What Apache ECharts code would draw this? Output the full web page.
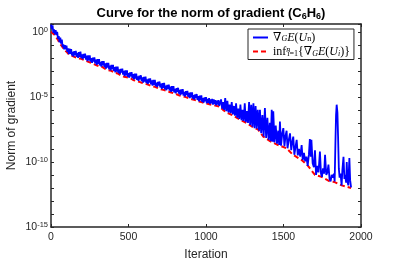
<!DOCTYPE html>
<html>
<head>
<meta charset="utf-8">
<script src="https://cdn.jsdelivr.net/npm/echarts@6/dist/echarts.min.js"></script>
<style>html,body{margin:0;padding:0;background:#fff;}#c{width:399px;height:261px;}</style>
</head>
<body>
<div id="c"></div>
<script>
// Iteration numbers and log10 of the gradient norm (blue curve)
const gradIter = [0,5,10,15,20,25,30,35,40,45,50,55,60,65,70,75,80,85,90,95,100,105,110,115,120,125,130,135,140,145,150,155,160,165,170,175,180,185,190,195,200,
205,210,215,220,225,230,235,240,245,250,255,260,265,270,275,280,285,290,295,300,305,310,315,320,325,330,335,340,345,350,355,360,365,370,375,380,385,390,395,400,
405,410,415,420,425,430,435,440,445,450,455,460,465,470,475,480,485,490,495,500,505,510,515,520,525,530,535,540,545,550,555,560,565,570,575,580,585,590,595,600,
605,610,615,620,625,630,635,640,645,650,655,660,665,670,675,680,685,690,695,700,705,710,715,720,725,730,735,740,745,750,755,760,765,770,775,780,785,790,795,800,
805,810,815,820,825,830,835,840,845,850,855,860,865,870,875,880,885,890,895,900,905,910,915,920,925,930,935,940,945,950,955,960,965,970,975,980,985,990,995,1000,
1005,1010,1015,1020,1025,1030,1035,1040,1045,1050,1055,1060,1065,1070,1075,1080,1085,
1090,1097,1104,1110,1117,1124,1131,1138,1145,1152,1159,1166,1173,1180,1187,1194,1201,1208,1215,1222,1229,1236,1243,1250,1257,1264,1271,1278,1285,1292,1299,1306,1313,1320,1327,1334,1342,1348,1356,1364,1372,1380,1388,1396,1404,1412,1418,1424,1430,1434,1442,1450,1458,1466,1472,1477,1484,1492,1499,1506,1513,1520,1526,1534,1542,1550,1556,1563,1570,1578,1585,1592,1600,1608,1617,1624,1632,1640,1648,1656,1664,1670,1676,1680,1688,1696,1703,1710,1718,1726,1735,1742,1748,1755,1762,1768,1776,1783,1790,1797,1804,1811,1818,1825,1830,1835,1839,1843,1848,1852,1857,1862,1868,1875,1880,1887,1893,1898,1904,1908,1913,1918,1925,1930,1936];
const gradLog10 = [0.55,0.2,0.5,-0.07,0.18,-0.2,0.13,-0.25,-0.01,-0.55,-0.33,-0.81,-0.45,-0.9,-0.6,-1.17,-0.97,-1.35,-1.02,-1.35,-1.06,-1.55,-1.28,-1.71,-1.3,-1.7,-1.33,-1.82,-1.55,-1.9,-1.49,-1.78,-1.46,-1.92,-1.61,-2.01,-1.56,-1.92,-1.53,-2.02,-1.74,
-2.09,-1.69,-1.99,-1.68,-2.14,-1.84,-2.25,-1.81,-2.19,-1.81,-2.3,-2.03,-2.38,-1.98,-2.28,-1.96,-2.43,-2.13,-2.54,-2.1,-2.47,-2.1,-2.59,-2.32,-2.67,-2.26,-2.57,-2.25,-2.72,-2.42,-2.82,-2.39,-2.76,-2.39,-2.88,-2.6,-2.96,-2.55,-2.86,-2.54,
-3.0,-2.71,-3.11,-2.68,-3.05,-2.67,-3.17,-2.89,-3.25,-2.84,-3.14,-2.83,-3.29,-3.0,-3.4,-2.96,-3.34,-2.96,-3.46,-3.18,-3.53,-3.12,-3.42,-3.1,-3.56,-3.26,-3.66,-3.22,-3.59,-3.21,-3.7,-3.42,-3.77,-3.36,-3.66,-3.34,-3.8,-3.5,-3.9,-3.46,
-3.83,-3.45,-3.94,-3.66,-4.01,-3.6,-3.9,-3.58,-4.04,-3.74,-4.14,-3.7,-4.07,-3.69,-4.18,-3.9,-4.25,-3.84,-4.14,-3.82,-4.28,-3.98,-4.38,-3.94,-4.31,-3.93,-4.42,-4.14,-4.49,-4.08,-4.38,-4.06,-4.52,-4.22,-4.62,-4.18,-4.55,-4.17,-4.66,-4.38,
-4.73,-4.32,-4.62,-4.3,-4.76,-4.46,-4.86,-4.42,-4.79,-4.41,-4.9,-4.62,-4.97,-4.56,-4.86,-4.54,-5.0,-4.7,-5.1,-4.66,-5.03,-4.65,-5.14,-4.86,-5.21,-4.8,-5.1,-4.78,-5.24,-4.94,-5.34,-4.9,-5.27,-4.89,-5.38,-5.1,-5.45,-5.04,-5.34,-5.02,
-5.5,-5.15,-5.45,-5.1,-5.55,-5.2,-5.5,-5.15,-5.6,-5.2,-5.55,-5.25,-5.65,-5.3,-5.6,-5.25,-5.7,
-5.7,-5.2,-5.9,-5.4,-6.0,-5.1,-6.1,-5.3,-6.2,-5.6,-6.25,-5.4,-6.35,-5.7,-6.45,-5.5,-6.6,-5.9,-6.7,-5.6,-6.8,-6.0,-6.85,-5.5,-6.95,-6.1,-7.0,-5.4,-7.15,-5.6,-7.3,-5.5,-7.4,-5.7,-7.45,-6.0,-7.6,-6.0,-7.8,-6.4,-8.05,-5.85,-8.15,-6.6,-8.3,-7.0,-8.4,-6.0,-8.45,-6.1,-8.5,-7.2,-8.6,-7.6,-8.7,-6.9,-8.75,-7.8,-7.4,-8.8,-8.0,-7.6,-8.95,-8.3,-7.8,-9.1,-8.5,-8.05,-9.45,-8.8,-8.3,-9.5,-9.0,-9.6,-8.7,-9.85,-9.3,-9.95,-9.6,-10.3,-9.4,-8.25,-9.6,-8.3,-10.1,-10.4,-9.1,-11.0,-10.3,-10.8,-9.2,-10.9,-11.15,-10.5,-10.9,-9.45,-11.0,-10.8,-10.2,-11.3,-11.5,-11.0,-11.2,-10.9,-11.5,-8.5,-6.4,-5.6,-6.2,-8.0,-10.5,-11.2,-10.9,-11.8,-10.6,-9.6,-11.3,-11.0,-11.6,-10.0,-11.5,-11.8,-9.7,-11.4,-11.95];

// Iteration numbers and log10 of the running infimum (red dashed curve)
const infIter = [0,12,24,36,44,54,66,76,86,104,116,136,146,176,196,210,230,250,270,290,310,330,350,370,390,410,430,450,470,490,510,530,550,570,590,610,630,650,670,690,710,730,750,770,790,810,830,850,870,890,910,930,950,970,990,1040,1090,1110,1133,1170,1219,1260,1305,1335,1370,1413,1465,1520,1561,1617,1658,1703,1746,1800,1830,1875,1936];
const infLog10 = [0.0,-0.1,-0.25,-0.3,-0.6,-0.85,-0.95,-1.2,-1.38,-1.58,-1.75,-1.85,-1.93,-2.05,-2.08,-2.15,-2.25,-2.35,-2.45,-2.55,-2.65,-2.7,-2.85,-2.95,-3.0,-3.15,-3.2,-3.35,-3.45,-3.5,-3.55,-3.7,-3.78,-3.85,-3.93,-4.0,-4.08,-4.17,-4.23,-4.32,-4.42,-4.47,-4.55,-4.65,-4.72,-4.8,-4.9,-4.95,-5.02,-5.12,-5.18,-5.25,-5.35,-5.4,-5.48,-5.62,-5.75,-6.0,-6.2,-6.4,-6.75,-7.0,-7.35,-7.5,-8.05,-8.4,-8.7,-8.95,-9.45,-9.85,-10.3,-11.0,-11.15,-11.5,-11.55,-11.8,-12.0];

// Axis ticks
const xTicks = [0, 500, 1000, 1500, 2000];
const yTickExponents = [0, -5, -10, -15];

const sans = 'Liberation Sans, Arial, Helvetica, sans-serif';
const serif = 'Liberation Serif, DejaVu Serif, serif';
const axisColor = '#262626';

const chart = echarts.init(document.getElementById('c'), null, {renderer: 'canvas'});

const yLabelRich = {
  b: {fontFamily: sans, fontSize: 10.5, color: axisColor, lineHeight: 12, verticalAlign: 'bottom'},
  e: {fontFamily: sans, fontSize: 7.5, color: axisColor, lineHeight: 8, padding: [0, 0, 7, 0], verticalAlign: 'top'}
};

const legRich = {
  m: {fontFamily: serif, fontSize: 12, lineHeight: 11, color: '#000', verticalAlign: 'middle'},
  mi: {fontFamily: serif, fontSize: 12, lineHeight: 11, color: '#000', fontStyle: 'italic', verticalAlign: 'middle'},
  sb: {fontFamily: serif, fontSize: 8, lineHeight: 8, color: '#000', fontStyle: 'italic', padding: [5, 0, 0, 0], verticalAlign: 'bottom'},
  sbu: {fontFamily: serif, fontSize: 8, lineHeight: 8, color: '#000', padding: [5, 0, 0, 0], verticalAlign: 'bottom'},
  sp: {fontFamily: serif, fontSize: 8, lineHeight: 8, color: '#000', fontStyle: 'italic', padding: [0, 0, 5, 0], verticalAlign: 'top', width: 1}
};

const legendText = {
  grad: '{m|∇}{sb|G}{mi|E}{m|(}{mi|U}{sbu|n}{m|)}',
  inf: '{m|inf}{sp|n}{sbu|i=1}{m|{∇}{sb|G}{mi|E}{m|(}{mi|U}{sb|i}{m|)}{m|\u007d}'
};

const commonX = {type: 'value', min: xTicks[0], max: xTicks[xTicks.length - 1], interval: 500, splitLine: {show: false}};
const commonY = {type: 'value', min: -15, max: 0.6, interval: 1, splitLine: {show: false}};
const lineAx = {onZero: false, lineStyle: {color: axisColor, width: 1.5}};
const tickAx = {inside: true, length: 3, lineStyle: {color: axisColor}};

chart.setOption({
  animation: false,
  backgroundColor: '#fff',
  title: {
    text: '{t|Curve for the norm of gradient (C}{s|6}{t|H}{s|6}{t|)}',
    left: 206, top: 2, textAlign: 'center',
    textStyle: {
      rich: {
        t: {fontFamily: sans, fontSize: 13, fontWeight: 'bold', color: '#000', lineHeight: 14, verticalAlign: 'top'},
        s: {fontFamily: sans, fontSize: 9, fontWeight: 'bold', color: '#000', lineHeight: 10, padding: [6, 0, 0, 0], verticalAlign: 'bottom'}
      }
    }
  },
  legend: {
    data: ['grad', 'inf'],
    orient: 'vertical',
    left: 248, top: 29,
    padding: [1, 4, 1, 4],
    itemGap: 1,
    itemWidth: 15, itemHeight: 10,
    borderColor: axisColor, borderWidth: 1, borderRadius: 0,
    backgroundColor: '#fff',
    itemStyle: {opacity: 0},
    formatter: n => legendText[n],
    textStyle: {fontFamily: serif, fontSize: 12, color: '#000', rich: legRich}
  },
  grid: {left: 51, right: 38, top: 24, bottom: 34, containLabel: false, outerBoundsMode: 'none'},
  xAxis: [
    Object.assign({}, commonX, {
      position: 'bottom',
      name: 'Iteration', nameLocation: 'middle', nameGap: 22, nameMoveOverlap: false,
      nameTextStyle: {fontFamily: sans, fontSize: 12, color: axisColor},
      axisLine: lineAx, axisTick: tickAx,
      axisLabel: {fontFamily: sans, fontSize: 10.5, color: axisColor, margin: 5, formatter: v => String(v)}
    }),
    Object.assign({}, commonX, {
      position: 'top',
      axisLine: lineAx, axisTick: tickAx,
      axisLabel: {show: false}
    })
  ],
  yAxis: [
    Object.assign({}, commonY, {
      position: 'left',
      name: 'Norm of gradient', nameLocation: 'middle', nameGap: 33, nameMoveOverlap: false,
      nameTextStyle: {fontFamily: sans, fontSize: 12, color: axisColor},
      axisLine: lineAx, axisTick: tickAx,
      axisLabel: {
        margin: 3,
        formatter: v => (Math.abs(v % 5) < 1e-9 && yTickExponents.indexOf(Math.round(v)) >= 0) ? '{b|10}{e|' + Math.round(v) + '}' : '',
        rich: yLabelRich
      }
    }),
    Object.assign({}, commonY, {
      position: 'right',
      axisLine: lineAx, axisTick: tickAx,
      axisLabel: {show: false}
    })
  ],
  series: [
    {
      name: 'grad', type: 'line', xAxisIndex: 0, yAxisIndex: 0, z: 3,
      symbol: 'none', showSymbol: false,
      data: gradIter.map((it, i) => [it, gradLog10[i]]),
      lineStyle: {color: '#0000ff', width: 1.8},
      itemStyle: {color: '#0000ff'}
    },
    {
      name: 'inf', type: 'line', xAxisIndex: 0, yAxisIndex: 0, z: 2,
      symbol: 'none', showSymbol: false,
      data: infIter.map((it, i) => [it, infLog10[i]]),
      lineStyle: {color: '#ff0000', width: 2, type: [5, 3]},
      itemStyle: {color: '#ff0000'}
    }
  ]
});
</script>
</body>
</html>
